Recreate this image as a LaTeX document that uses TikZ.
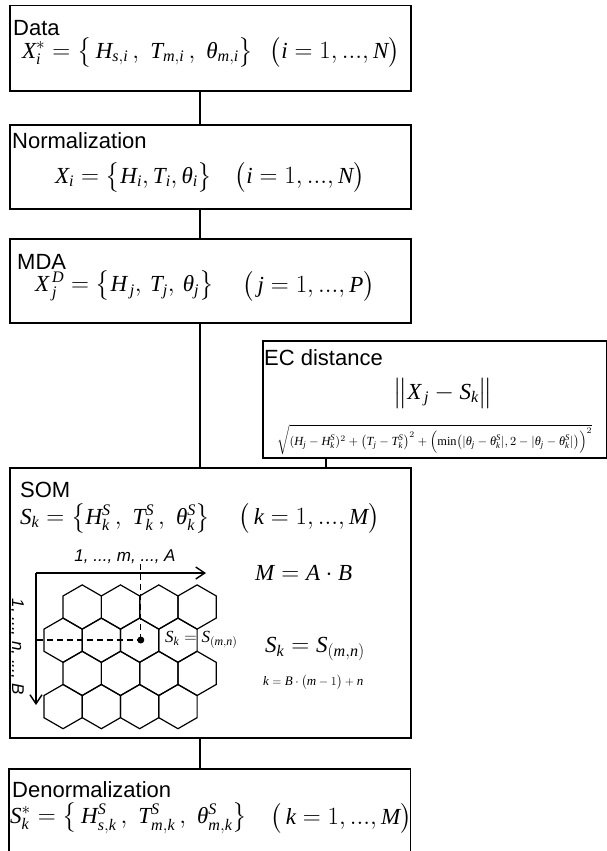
\documentclass[tikz,border=0pt]{standalone}
\usepackage{amsmath}
\usepackage{fontspec}
\setmainfont{Liberation Serif}
\setsansfont{Liberation Sans}
\usepackage{graphicx}
\usetikzlibrary{arrows.meta}
\DeclareSymbolFont{tuletters}{TU}{\rmdefault}{m}{it}
\newcount\mycnt
\mycnt=`A
\loop \Umathcode\mycnt="7 \symtuletters \mycnt \ifnum\mycnt<`Z \advance\mycnt 1 \repeat
\mycnt=`a
\loop \Umathcode\mycnt="7 \symtuletters \mycnt \ifnum\mycnt<`z \advance\mycnt 1 \repeat
\Umathchardef\mytheta="0 \symtuletters "03B8
\newcommand{\tdots}{\mathord{.}\mathord{.}\mathord{.}}
\begin{document}
\begin{tikzpicture}[x=1pt,y=-1pt,
  box/.style={draw, line width=1.5pt, anchor=north west, inner sep=0pt},
  conn/.style={line width=1.8pt},
  lbl/.style={font=\sffamily\fontsize{22}{25}\selectfont, anchor=west, inner sep=0pt},
  eq/.style={font=\fontsize{23}{26}\selectfont, inner sep=0pt},
  hexl/.style={line width=1.2pt},
  dashl/.style={line width=1.3pt, dash pattern=on 6pt off 4pt},
  axis/.style={line width=1.4pt, -{Straight Barb[length=9pt,width=12pt,line width=1.4pt]}},
  axlbl/.style={font=\sffamily\itshape\fontsize{17}{20}\selectfont, inner sep=0pt}]
\useasboundingbox (0,0) rectangle (607,851);
\fill[white] (0,0) rectangle (607,851);

% boxes
\node[box, minimum width=401pt, minimum height=85pt] (data) at (9,5) {};
\node[box, minimum width=401pt, minimum height=84pt] (norm) at (9,124) {};
\node[box, minimum width=401pt, minimum height=84pt] (mda) at (9,238) {};
\node[box, minimum width=344pt, minimum height=117pt] (ec) at (262,340) {};
\node[box, minimum width=401pt, minimum height=270pt] (som) at (9,467) {};
\node[anchor=north west, inner sep=0pt, minimum width=401pt, minimum height=90pt] (den) at (9,769) {};
\draw[line width=1.5pt] (den.south west) -- (den.north west) -- (den.north east) -- (den.south east);

% connectors
\draw[conn] (data.south west) ++(191,0) coordinate (c1) -- (c1 |- norm.north);
\draw[conn] (norm.south west) ++(191,0) coordinate (c2) -- (c2 |- mda.north);
\draw[conn] (mda.south west) ++(191,0) coordinate (c3) -- (c3 |- som.north);
\draw[conn] (ec.south west) ++(64,0) coordinate (c4) -- (c4 |- som.north);
\draw[conn] (som.south west) ++(191,0) coordinate (c5) -- (c5 |- den.north);

% Data
\node[lbl] (tdata) at (13,28) {Data};
\node[eq, anchor=west] (fdata) at (22,52) {$X_i^{*}=\bigl\{\,H_{s,i}\,,\;T_{m,i}\,,\;\mytheta_{m,i}\bigr\}$};
\node[eq, anchor=east] (rdata) at (400,52) {$\bigl(i=1,\tdots,N\bigr)$};

% Normalization
\node[lbl] (tnorm) at (12,141) {Normalization};
\node[eq, anchor=west] (fnorm) at (55,177) {$X_i=\bigl\{H_i,T_i,\mytheta_i\bigr\}$};
\node[eq, anchor=east] (rnorm) at (365,177) {$\bigl(i=1,\tdots,N\bigr)$};

% MDA
\node[lbl] (tmda) at (17,262) {MDA};
\node[eq, anchor=west] (fmda) at (35,286) {$X_{\,j}^{\,D}=\bigl\{H_{\,j},\,T_{j},\,\mytheta_{j}\bigr\}$};
\node[eq, anchor=east] (rmda) at (375,286) {$\bigl(\,j=1,\tdots,P\bigr)$};

% EC distance
\node[lbl] (tec) at (264,358) {EC distance};
\node[eq] (fec) at (443,393) {$\bigl\|X_{\,j}-S_k\bigr\|$};
\node[inner sep=0pt, anchor=west] (sqec) at (277,440) {\resizebox{315pt}{!}{$\sqrt{(H_j-H_k^S)^2+\bigl(T_j-T_k^S\bigr)^2+\Bigl(\min\bigl(\lvert\mytheta_j-\mytheta_k^S\rvert,2-\lvert\mytheta_j-\mytheta_k^S\rvert\bigr)\Bigr)^2}$}};

% SOM
\node[lbl] (tsom) at (20,490) {SOM};
\node[eq, anchor=west] (fsom) at (20,518) {$S_k=\bigl\{H_k^S\,,\;T_k^S\,,\;\mytheta_k^S\bigr\}$};
\node[eq, anchor=east] (rsom) at (380,518) {$\bigl(\,k=1,\tdots,M\bigr)$};

% hex grid
\foreach \r in {0,...,3}{
  \foreach \c in {0,...,3}{
    \pgfmathsetmacro{\cx}{82.2+38.3*\c-19.15*mod(\r,2)}
    \pgfmathsetmacro{\cy}{607+33.2*\r}
    \draw[hexl] (\cx,\cy-22.1) -- (\cx+19.15,\cy-11.05) -- (\cx+19.15,\cy+11.05) -- (\cx,\cy+22.1) -- (\cx-19.15,\cy+11.05) -- (\cx-19.15,\cy-11.05) -- cycle;
  }
}
\coordinate (orig) at (36,573);
\coordinate (xend) at (206,573);
\coordinate (yend) at (36,705);
\draw[axis] (orig) -- (xend);
\draw[axis] (orig) -- (yend);
\node[axlbl] (xl) at (125,557) {1, ..., m, ..., A};
\node[axlbl, rotate=-90] (yl) at (17,647) {1, ..., n, ..., B};
\node[circle, fill, inner sep=0pt, minimum size=7pt] (dot) at (140.8,640) {};
\coordinate (vtop) at (140.8,564);
\coordinate (hleft) at (37,640);
\draw[dashl] (vtop) -- (dot.center);
\draw[dashl] (hleft) -- (dot.center);
\node[inner sep=0pt, anchor=west, font=\fontsize{17}{20}\selectfont] (skin) at (165,640) {$S_k=S_{(m,n)}$};
\node[eq, anchor=west] (mab) at (255,573) {$M=A\cdot B$};
\node[eq, anchor=west] (skr) at (265,649) {$S_k=S_{(m,n)}$};
\node[inner sep=0pt, anchor=west, font=\fontsize{13}{15}\selectfont] (kf) at (263,682) {$k=B\cdot\bigl(m-1\bigr)+n$};

% Denormalization
\node[lbl] (tden) at (12,790) {Denormalization};
\node[eq, anchor=west] (fden) at (10,818) {$S_k^{*}=\bigl\{\,H^S_{s,k}\,,\;T^S_{m,k}\,,\;\mytheta^S_{m,k}\bigr\}$};
\node[eq, anchor=east] (rden) at (412,818) {$\bigl(\,k=1,\tdots,M\bigr)$};
\end{tikzpicture}
\end{document}
